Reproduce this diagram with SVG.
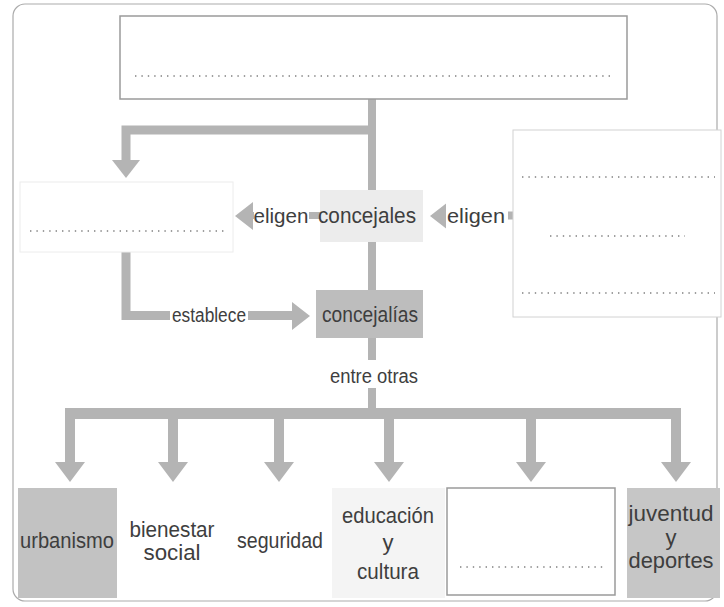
<svg xmlns="http://www.w3.org/2000/svg" xmlns:xlink="http://www.w3.org/1999/xlink" width="724" height="607" viewBox="0 0 724 607">
<style>
  .t { font-family: "Liberation Sans", Arial, sans-serif; fill: #3e3e3e; text-anchor: middle; }
  .sh { stroke: #b4b4b4; fill: none; stroke-linejoin: miter; stroke-linecap: butt; }
  .hd { fill: #b4b4b4; }
  .dot { stroke: #808080; stroke-width: 1.4; stroke-dasharray: 1.4 5; fill: none; }
  .box { fill: #ffffff; stroke: #9a9a9a; stroke-width: 1.5; }
  .faint { fill: #ffffff; stroke: #ececec; stroke-width: 1; }
  .gbox { fill: #c2c2c2; }
  .bg { fill: #ffffff; }
</style>
<defs>
  <polygon id="hdDown" points="-15,0 15,0 0,20"/>
  <polygon id="hdDownS" points="-14,0 14,0 0,18"/>
  <polygon id="hdLeft" points="0,0 18,-14 18,14"/>
  <polygon id="hdRight" points="0,-14 0,14 18,0"/>
</defs>
<rect width="724" height="607" fill="#ffffff"/>
<rect x="13" y="4" width="704" height="597" rx="12" ry="12" fill="none" stroke="#ababab" stroke-width="1.2"/>

<g id="connectors">
  <line class="sh" x1="372" y1="99" x2="372" y2="408" stroke-width="8"/>
  <polyline class="sh" points="372,130 126,130 126,161" stroke-width="9"/>
  <use href="#hdDownS" class="hd" x="126" y="160"/>
  <line class="sh" x1="252" y1="215.5" x2="322" y2="215.5" stroke-width="7"/>
  <use href="#hdLeft" class="hd" x="235" y="216"/>
  <line class="sh" x1="446" y1="215.5" x2="517" y2="215.5" stroke-width="8"/>
  <use href="#hdLeft" class="hd" x="430" y="216"/>
  <polyline class="sh" points="126,252 126,315.5 293,315.5" stroke-width="9"/>
  <use href="#hdRight" class="hd" x="292" y="316"/>
  <line class="sh" x1="65" y1="413.5" x2="681" y2="413.5" stroke-width="11"/>
  <line class="sh" x1="70" y1="413" x2="70" y2="464" stroke-width="10"/>
  <line class="sh" x1="173" y1="413" x2="173" y2="464" stroke-width="10"/>
  <line class="sh" x1="279" y1="413" x2="279" y2="464" stroke-width="10"/>
  <line class="sh" x1="389" y1="413" x2="389" y2="464" stroke-width="10"/>
  <line class="sh" x1="531" y1="413" x2="531" y2="464" stroke-width="10"/>
  <line class="sh" x1="676" y1="413" x2="676" y2="464" stroke-width="10"/>
  <use href="#hdDown" class="hd" x="70" y="462"/>
  <use href="#hdDown" class="hd" x="173" y="462"/>
  <use href="#hdDown" class="hd" x="279" y="462"/>
  <use href="#hdDown" class="hd" x="389" y="462"/>
  <use href="#hdDown" class="hd" x="531" y="462"/>
  <use href="#hdDown" class="hd" x="676" y="462"/>
  <g id="label-eligen-left">
    <rect class="bg" x="254" y="202" width="55" height="30"/>
    <text class="t" x="281" y="223" font-size="21" textLength="55" lengthAdjust="spacingAndGlyphs">eligen</text>
  </g>
  <g id="label-eligen-right">
    <rect class="bg" x="446" y="202" width="62" height="30"/>
    <text class="t" x="476" y="223" font-size="21" textLength="58" lengthAdjust="spacingAndGlyphs">eligen</text>
  </g>
  <g id="label-establece">
    <rect class="bg" x="170" y="301" width="78" height="28"/>
    <text class="t" x="209" y="322" font-size="20" textLength="74" lengthAdjust="spacingAndGlyphs">establece</text>
  </g>
  <g id="label-entre-otras">
    <rect class="bg" x="326" y="360" width="96" height="28"/>
    <text class="t" x="374" y="383" font-size="20" textLength="88" lengthAdjust="spacingAndGlyphs">entre otras</text>
  </g>
</g>

<g id="node-top">
  <rect class="box" x="120" y="16" width="507" height="83"/>
  <line class="dot" x1="135" y1="76" x2="612" y2="76"/>
</g>

<g id="node-left">
  <rect class="faint" x="20" y="182" width="213" height="70"/>
  <line class="dot" x1="30" y1="231" x2="225" y2="231"/>
</g>

<g id="node-right">
  <rect x="513" y="130" width="208" height="187" fill="#ffffff" stroke="#d2d2d2" stroke-width="1"/>
  <line class="dot" x1="522" y1="177" x2="715" y2="177"/>
  <line class="dot" x1="550" y1="236" x2="685" y2="236"/>
  <line class="dot" x1="522" y1="293" x2="715" y2="293"/>
</g>

<g id="node-concejales">
  <rect x="320" y="190" width="103" height="52" fill="#ececec"/>
  <text class="t" x="367" y="223" font-size="22" textLength="98" lengthAdjust="spacingAndGlyphs">concejales</text>
</g>

<g id="node-concejalias">
  <rect x="316" y="290" width="107" height="48" fill="#bdbdbd"/>
  <text class="t" x="370" y="322" font-size="22" textLength="96" lengthAdjust="spacingAndGlyphs">concejalías</text>
</g>

<g id="node-urbanismo">
  <rect class="gbox" x="18" y="488" width="99" height="110"/>
  <text class="t" x="67" y="548" font-size="22" textLength="94" lengthAdjust="spacingAndGlyphs">urbanismo</text>
</g>

<g id="node-bienestar">
  <text class="t" x="172" y="537" font-size="22" textLength="85" lengthAdjust="spacingAndGlyphs">bienestar</text>
  <text class="t" x="172" y="560" font-size="22" textLength="57" lengthAdjust="spacingAndGlyphs">social</text>
</g>

<g id="node-seguridad">
  <text class="t" x="280" y="548" font-size="22" textLength="86" lengthAdjust="spacingAndGlyphs">seguridad</text>
</g>

<g id="node-educacion">
  <rect x="332" y="488" width="113" height="110" fill="#f4f4f4"/>
  <text class="t" x="388" y="523" font-size="22" textLength="92" lengthAdjust="spacingAndGlyphs">educación</text>
  <text class="t" x="388" y="550" font-size="22">y</text>
  <text class="t" x="388" y="579" font-size="22" textLength="62" lengthAdjust="spacingAndGlyphs">cultura</text>
</g>

<g id="node-blank">
  <rect class="box" x="447" y="488" width="168" height="107"/>
  <line class="dot" x1="460" y1="567" x2="605" y2="567"/>
</g>

<g id="node-juventud">
  <rect x="627" y="488" width="93" height="110" fill="#c6c6c6"/>
  <text class="t" x="671" y="521" font-size="22" textLength="85" lengthAdjust="spacingAndGlyphs">juventud</text>
  <text class="t" x="671" y="545" font-size="22">y</text>
  <text class="t" x="671" y="568" font-size="22" textLength="85" lengthAdjust="spacingAndGlyphs">deportes</text>
</g>
</svg>
